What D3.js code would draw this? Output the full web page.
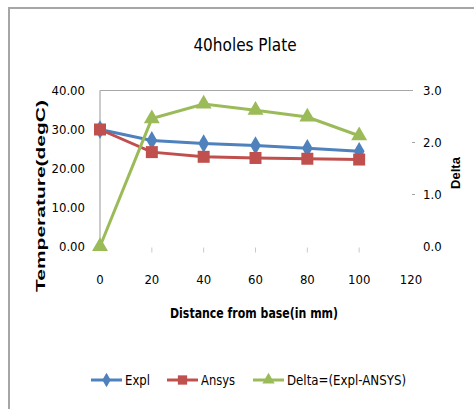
<!DOCTYPE html>
<html>
<head>
<meta charset="utf-8">
<script src="https://cdn.jsdelivr.net/npm/d3@7"></script>
<style>
  body { margin: 0; background: #fff; }
  text { font-family: "DejaVu Sans Condensed", "Liberation Sans Narrow", sans-serif; fill: #000; }
  .bold { font-family: "Liberation Sans", Arial, sans-serif; font-weight: bold; }
</style>
</head>
<body>
<svg></svg>
<script>
// 40holes plate: temperature along the fin, experiment vs ANSYS
var distance = [0, 20, 40, 60, 80, 100]
var expl  = [30.0, 27.2, 26.4, 25.9, 25.2, 24.4]
var ansys = [30.0, 24.2, 23.0, 22.7, 22.5, 22.3]
var delta = [0.0, 2.46, 2.74, 2.62, 2.49, 2.13]

var xTicks = [0, 20, 40, 60, 80, 100, 120]
var yTicks = [0, 10, 20, 30, 40]
var y2Ticks = [0, 1, 2, 3]

var canvasSize = {width: 474, height: 409}
var plot = {left: 100, right: 411, top: 90.5, bottom: 246.5}

var colors = {expl: "#4f81bd", ansys: "#c0504d", delta: "#9bbb59"}

var svg = d3.select("svg")
    .attr("width", canvasSize.width)
    .attr("height", canvasSize.height)

// chart frame (runs off the right and bottom of the picture)
svg.append("rect")
    .attr("x", 9).attr("y", 8)
    .attr("width", 480).attr("height", 420)
    .attr("fill", "none")
    .attr("stroke", "#a6a6a6")
    .attr("stroke-width", 2)

var x = d3.scaleLinear().domain([0, 120]).range([plot.left, plot.right])
var y = d3.scaleLinear().domain([0, 40]).range([plot.bottom, plot.top])
var y2 = d3.scaleLinear().domain([0, 3]).range([plot.bottom, plot.top])

// top gridline
svg.append("line")
    .attr("x1", plot.left).attr("x2", plot.right + 2)
    .attr("y1", y(40)).attr("y2", y(40))
    .attr("stroke", "#a8a8a8").attr("stroke-width", 1.2)

// left axis line
svg.append("line")
    .attr("x1", plot.left).attr("x2", plot.left)
    .attr("y1", plot.top).attr("y2", plot.bottom)
    .attr("stroke", "#a8a8a8").attr("stroke-width", 1.2)

// left y labels
svg.selectAll(".ylab").data(yTicks).enter().append("text")
    .attr("class", "ylab")
    .attr("x", 85).attr("y", d => y(d))
    .attr("dy", "0.35em")
    .attr("text-anchor", "end")
    .attr("font-size", 13)
    .text(d => d.toFixed(2))

// right y ticks and labels
svg.selectAll(".y2tick").data(y2Ticks.filter(d => d > 0 && d < 3)).enter().append("line")
    .attr("class", "y2tick")
    .attr("x1", plot.right + 1).attr("x2", plot.right + 4)
    .attr("y1", d => y2(d)).attr("y2", d => y2(d))
    .attr("stroke", "#a0a0a0")
svg.selectAll(".y2lab").data(y2Ticks).enter().append("text")
    .attr("class", "y2lab")
    .attr("x", 423).attr("y", d => y2(d))
    .attr("dy", "0.35em")
    .attr("font-size", 13)
    .text(d => d.toFixed(1))

// x ticks and labels
svg.selectAll(".xtick").data(xTicks.slice(1, -1)).enter().append("line")
    .attr("class", "xtick")
    .attr("x1", d => x(d)).attr("x2", d => x(d))
    .attr("y1", plot.bottom + 1).attr("y2", plot.bottom + 6)
    .attr("stroke", "#c8c8c8")
svg.selectAll(".xlab").data(xTicks).enter().append("text")
    .attr("class", "xlab")
    .attr("x", d => x(d)).attr("y", 279)
    .attr("dy", "0.35em")
    .attr("text-anchor", "middle")
    .attr("font-size", 13)
    .text(d => d)

// titles
svg.append("text")
    .attr("x", 245).attr("y", 45)
    .attr("dy", "0.35em")
    .attr("text-anchor", "middle")
    .attr("font-size", 17)
    .text("40holes Plate")
svg.append("text")
    .attr("class", "bold")
    .attr("transform", "translate(40,196) rotate(-90)")
    .attr("dy", "0.35em")
    .attr("text-anchor", "middle")
    .attr("font-size", 13.5)
    .attr("textLength", 192)
    .attr("lengthAdjust", "spacingAndGlyphs")
    .text("Temperature(degC)")
svg.append("text")
    .attr("class", "bold")
    .attr("transform", "translate(455,173) rotate(-90)")
    .attr("dy", "0.35em")
    .attr("text-anchor", "middle")
    .attr("font-size", 13)
    .text("Delta")
svg.append("text")
    .attr("x", 254).attr("y", 313)
    .attr("dy", "0.35em")
    .attr("text-anchor", "middle")
    .attr("font-size", 14)
    .attr("font-weight", "bold")
    .attr("textLength", 168)
    .attr("lengthAdjust", "spacingAndGlyphs")
    .text("Distance from base(in mm)")

// series
var series = [
    {name: "Expl", values: expl, scale: y, color: colors.expl, shape: d3.symbolDiamond, size: 100},
    {name: "Ansys", values: ansys, scale: y, color: colors.ansys, shape: d3.symbolSquare, size: 144},
    {name: "Delta=(Expl-ANSYS)", values: delta, scale: y2, color: colors.delta, shape: d3.symbolTriangle, size: 110}
]

series.forEach(s => {
    var line = d3.line()
        .x((d, i) => x(distance[i]))
        .y(d => s.scale(d))
    svg.append("path")
        .datum(s.values)
        .attr("d", line)
        .attr("fill", "none")
        .attr("stroke", s.color)
        .attr("stroke-width", 3)
    svg.selectAll(null).data(s.values).enter().append("path")
        .attr("transform", (d, i) => `translate(${x(distance[i])},${s.scale(d)})`)
        .attr("d", d3.symbol().type(s.shape).size(s.size))
        .attr("fill", s.color)
})

// legend
var legendX = [91, 167, 253]
var legendW = [25, 34, 119]
var legend = svg.selectAll(".legend").data(series).enter().append("g")
    .attr("class", "legend")
    .attr("transform", (d, i) => `translate(${legendX[i]},380)`)
legend.append("line")
    .attr("x1", 0).attr("x2", 31)
    .attr("stroke", d => d.color).attr("stroke-width", 3)
legend.append("path")
    .attr("transform", "translate(15.5,0)")
    .attr("d", d => d3.symbol().type(d.shape).size(d.size * 0.6)())
    .attr("fill", d => d.color)
legend.append("text")
    .attr("x", 34).attr("dy", "0.35em")
    .attr("font-size", 14)
    .attr("textLength", (d, i) => legendW[i])
    .attr("lengthAdjust", "spacingAndGlyphs")
    .text(d => d.name)
</script>
</body>
</html>
